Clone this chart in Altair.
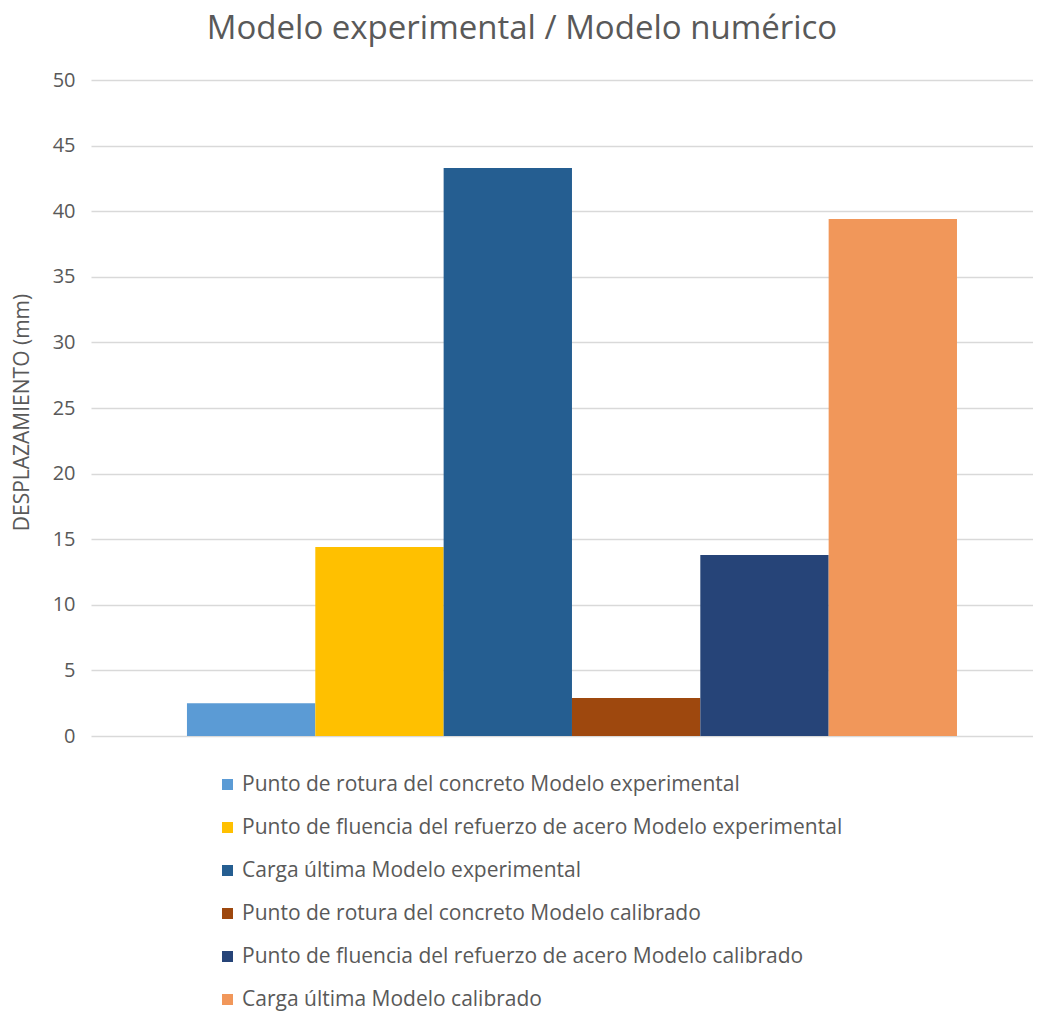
import altair as alt
import pandas as pd

series = [
    "Punto de rotura del concreto Modelo experimental",
    "Punto de fluencia del refuerzo de acero Modelo experimental",
    "Carga última Modelo experimental",
    "Punto de rotura del concreto Modelo calibrado",
    "Punto de fluencia del refuerzo de acero Modelo calibrado",
    "Carga última Modelo calibrado",
]
values = [2.5, 14.4, 43.3, 2.9, 13.8, 39.4]
colors = ["#5B9BD5", "#FFC000", "#255E91", "#9E480E", "#264478", "#F1975A"]
y_ticks = [0, 5, 10, 15, 20, 25, 30, 35, 40, 45, 50]

FONT = "Open Sans"

df = pd.DataFrame({"serie": series, "valor": values})

chart = alt.Chart(df).mark_bar().encode(
    x=alt.X("serie:N", sort=series, axis=None,
            scale=alt.Scale(paddingInner=0, paddingOuter=0.670, align=0.558)),
    y=alt.Y("valor:Q",
            scale=alt.Scale(domain=[0, 50], nice=False),
            axis=alt.Axis(values=y_ticks, title="DESPLAZAMIENTO (mm)", grid=True,
                          gridColor="#D9D9D9", gridWidth=1.3, domain=False, ticks=False,
                          labelFontSize=20, labelColor="#595959", labelFont=FONT,
                          labelPadding=16, titleFontSize=21, titleColor="#595959",
                          titleFont=FONT, titleFontWeight="normal", titleX=-69,
                          titleY=332, titleAngle=270, titleAlign="center",
                          titleBaseline="middle")),
    color=alt.Color("serie:N", sort=series,
                    scale=alt.Scale(domain=series, range=colors),
                    legend=alt.Legend(title=None, orient="none", legendX=126, legendY=694,
                                      direction="vertical", symbolType="square",
                                      symbolSize=121, symbolStrokeWidth=0,
                                      labelFontSize=21, labelFont=FONT,
                                      labelColor="#595959", labelOffset=4,
                                      rowPadding=21, labelLimit=1000)),
).properties(
    width=942, height=656,
    title=alt.Title("Modelo experimental / Modelo numérico", fontSize=33, font=FONT,
                    color="#595959", fontWeight="normal", anchor="middle",
                    frame="bounds", offset=24),
    autosize=alt.AutoSizeParams(type="none"),
    padding={"left": 83, "top": 72, "right": 0, "bottom": 277},
).configure_view(stroke=None)

chart.save("out.html", embed_options={"renderer": "svg", "actions": False})
